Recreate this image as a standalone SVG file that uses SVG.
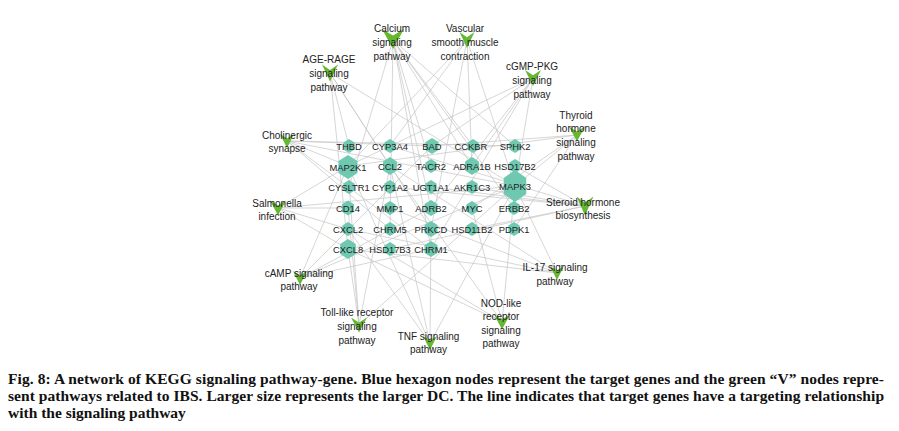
<svg xmlns="http://www.w3.org/2000/svg" xmlns:xlink="http://www.w3.org/1999/xlink" width="899" height="431" viewBox="0 0 899 431">
<style>
.e{stroke:#c4c4c4;stroke-width:0.7;fill:none}
.hx{fill:#6fc9b1}
.v{fill:#66b832}
.g{font-family:"Liberation Sans",Arial,sans-serif;font-size:9.4px;fill:#222;text-anchor:middle}
.p{font-family:"Liberation Sans",Arial,sans-serif;font-size:10px;fill:#222;text-anchor:middle}
.cap{font-family:"Liberation Serif","Times New Roman",serif;font-size:15.5px;font-weight:bold;fill:#111}
</style>
<defs>
<polygon id="hex" points="0,-1 0.866,-0.5 0.866,0.5 0,1 -0.866,0.5 -0.866,-0.5"/>
<polygon id="vee" points="-1,-1 0,-0.35 1,-1 0,1"/>
</defs>
<rect width="899" height="431" fill="#fff"/>
<g id="edges">
<path class="e" d="M393,40L472,166M393,40L431,208M393,40L473,146M393,40L431,249M393,40L390,229M393,40L431,166M393,40L349,187M393,40L514,208M393,40L515,146"/>
<path class="e" d="M330,73L390,166M330,73L348,249M330,73L515,186M330,73L431,229M330,73L349,146"/>
<path class="e" d="M467,40L472,166M467,40L515,186M467,40L348,166M467,40L431,229M467,40L390,146"/>
<path class="e" d="M533,78L472,166M533,78L431,208M533,78L432,146M533,78L515,186M533,78L348,166M533,78L431,249"/>
<path class="e" d="M577,135L515,186M577,135L348,166M577,135L472,208M577,135L514,229M577,135L432,146"/>
<path class="e" d="M287,141L431,249M287,141L390,229M287,141L515,186M287,141L348,166M287,141L432,146M287,141L515,146"/>
<path class="e" d="M278,208L348,208M278,208L348,229M278,208L348,249M278,208L515,186M278,208L348,166"/>
<path class="e" d="M585,206L390,146M585,206L390,187M585,206L431,187M585,206L472,187M585,206L515,166M585,206L390,249M585,206L472,229"/>
<path class="e" d="M300,278L431,208M300,278L431,249M300,278L515,186M300,278L348,166M300,278L432,146"/>
<path class="e" d="M359,325L348,208M359,325L348,249M359,325L515,186M359,325L348,166M359,325L390,166"/>
<path class="e" d="M430,343L390,166M430,343L348,229M430,343L515,186M430,343L348,166M430,343L431,229"/>
<path class="e" d="M557,273L390,166M557,273L348,229M557,273L348,249M557,273L515,186M557,273L390,208"/>
<path class="e" d="M502,322L390,166M502,322L348,229M502,322L348,249M502,322L515,186M502,322L472,208"/>
</g>
<g id="THBD"><use xlink:href="#hex" class="hx" transform="translate(349,146) scale(6.5,7)"/><text class="g" x="349" y="149.5">THBD</text></g>
<g id="CYP3A4"><use xlink:href="#hex" class="hx" transform="translate(390,146) scale(6.5,7)"/><text class="g" x="390" y="149.5">CYP3A4</text></g>
<g id="BAD"><use xlink:href="#hex" class="hx" transform="translate(432,146) scale(7.5,8)"/><text class="g" x="432" y="149.5">BAD</text></g>
<g id="CCKBR"><use xlink:href="#hex" class="hx" transform="translate(473,146) scale(6.5,7)"/><text class="g" x="471" y="149.5">CCKBR</text></g>
<g id="SPHK2"><use xlink:href="#hex" class="hx" transform="translate(515,146) scale(6.5,7)"/><text class="g" x="515" y="149.5">SPHK2</text></g>
<g id="MAP2K1"><use xlink:href="#hex" class="hx" transform="translate(348,167) scale(11,12)"/><text class="g" x="348" y="170.5">MAP2K1</text></g>
<g id="CCL2"><use xlink:href="#hex" class="hx" transform="translate(390,166) scale(8,9)"/><text class="g" x="390" y="169.5">CCL2</text></g>
<g id="TACR2"><use xlink:href="#hex" class="hx" transform="translate(431,166) scale(6.5,7)"/><text class="g" x="431" y="169.5">TACR2</text></g>
<g id="ADRA1B"><use xlink:href="#hex" class="hx" transform="translate(472,166) scale(8,9)"/><text class="g" x="472" y="169.5">ADRA1B</text></g>
<g id="HSD17B2"><use xlink:href="#hex" class="hx" transform="translate(515,166) scale(6.5,7)"/><text class="g" x="515" y="169.5">HSD17B2</text></g>
<g id="CYSLTR1"><use xlink:href="#hex" class="hx" transform="translate(349,187) scale(6.5,7)"/><text class="g" x="349" y="190.5">CYSLTR1</text></g>
<g id="CYP1A2"><use xlink:href="#hex" class="hx" transform="translate(390,187) scale(6.5,7)"/><text class="g" x="390" y="190.5">CYP1A2</text></g>
<g id="UGT1A1"><use xlink:href="#hex" class="hx" transform="translate(431,187) scale(6.5,7)"/><text class="g" x="431" y="190.5">UGT1A1</text></g>
<g id="AKR1C3"><use xlink:href="#hex" class="hx" transform="translate(472,187) scale(6.5,7)"/><text class="g" x="472" y="190.5">AKR1C3</text></g>
<g id="MAPK3"><use xlink:href="#hex" class="hx" transform="translate(515,186) scale(13,16)"/><text class="g" x="515" y="190">MAPK3</text></g>
<g id="CD14"><use xlink:href="#hex" class="hx" transform="translate(348,208) scale(7,7.5)"/><text class="g" x="348" y="211.5">CD14</text></g>
<g id="MMP1"><use xlink:href="#hex" class="hx" transform="translate(390,208) scale(6.5,7)"/><text class="g" x="390" y="211.5">MMP1</text></g>
<g id="ADRB2"><use xlink:href="#hex" class="hx" transform="translate(431,208) scale(7.5,8)"/><text class="g" x="431" y="211.5">ADRB2</text></g>
<g id="MYC"><use xlink:href="#hex" class="hx" transform="translate(472,208) scale(6.5,7)"/><text class="g" x="472" y="211.5">MYC</text></g>
<g id="ERBB2"><use xlink:href="#hex" class="hx" transform="translate(514,208) scale(6.5,7)"/><text class="g" x="514" y="211.5">ERBB2</text></g>
<g id="CXCL2"><use xlink:href="#hex" class="hx" transform="translate(348,229) scale(6.5,7)"/><text class="g" x="348" y="232.5">CXCL2</text></g>
<g id="CHRM5"><use xlink:href="#hex" class="hx" transform="translate(390,229) scale(6.5,7)"/><text class="g" x="390" y="232.5">CHRM5</text></g>
<g id="PRKCD"><use xlink:href="#hex" class="hx" transform="translate(431,229) scale(7.5,8)"/><text class="g" x="431" y="232.5">PRKCD</text></g>
<g id="HSD11B2"><use xlink:href="#hex" class="hx" transform="translate(472,229) scale(6.5,7)"/><text class="g" x="472" y="232.5">HSD11B2</text></g>
<g id="PDPK1"><use xlink:href="#hex" class="hx" transform="translate(514,229) scale(6.5,7)"/><text class="g" x="514" y="232.5">PDPK1</text></g>
<g id="CXCL8"><use xlink:href="#hex" class="hx" transform="translate(348,249) scale(9,10)"/><text class="g" x="348" y="252.5">CXCL8</text></g>
<g id="HSD17B3"><use xlink:href="#hex" class="hx" transform="translate(390,249) scale(6.5,7)"/><text class="g" x="390" y="252.5">HSD17B3</text></g>
<g id="CHRM1"><use xlink:href="#hex" class="hx" transform="translate(431,249) scale(7.5,8)"/><text class="g" x="431" y="252.5">CHRM1</text></g>

<g id="calcium"><use xlink:href="#vee" class="v" transform="translate(393,39) scale(11,10)"/><text class="p" x="392" y="32">Calcium</text><text class="p" x="392" y="46">signaling</text><text class="p" x="392" y="60">pathway</text></g>
<g id="agerage"><use xlink:href="#vee" class="v" transform="translate(330,73) scale(8,8.5)"/><text class="p" x="329" y="62.5">AGE-RAGE</text><text class="p" x="329" y="76.5">signaling</text><text class="p" x="329" y="90.5">pathway</text></g>
<g id="vascular"><use xlink:href="#vee" class="v" transform="translate(467,40) scale(7.5,8)"/><text class="p" x="465" y="32">Vascular</text><text class="p" x="465" y="46">smooth muscle</text><text class="p" x="465" y="60">contraction</text></g>
<g id="cgmp"><use xlink:href="#vee" class="v" transform="translate(533,78) scale(8,8)"/><text class="p" x="532" y="70">cGMP-PKG</text><text class="p" x="532" y="84">signaling</text><text class="p" x="532" y="97.5">pathway</text></g>
<g id="thyroid"><use xlink:href="#vee" class="v" transform="translate(577,134) scale(8,7.5)"/><text class="p" x="576" y="118.5">Thyroid</text><text class="p" x="576" y="132">hormone</text><text class="p" x="576" y="146">signaling</text><text class="p" x="576" y="159.5">pathway</text></g>
<g id="cholinergic"><use xlink:href="#vee" class="v" transform="translate(287,141) scale(7,7)"/><text class="p" x="287" y="138.5">Cholinergic</text><text class="p" x="287" y="152">synapse</text></g>
<g id="salmonella"><use xlink:href="#vee" class="v" transform="translate(278,208) scale(8,7.5)"/><text class="p" x="277" y="206.5">Salmonella</text><text class="p" x="277" y="220">infection</text></g>
<g id="steroid"><use xlink:href="#vee" class="v" transform="translate(585,206) scale(8.5,9.5)"/><text class="p" x="583" y="205.5">Steroid hormone</text><text class="p" x="583" y="219">biosynthesis</text></g>
<g id="camp"><use xlink:href="#vee" class="v" transform="translate(300,278) scale(7,7)"/><text class="p" x="299" y="276.5">cAMP signaling</text><text class="p" x="299" y="290">pathway</text></g>
<g id="toll"><use xlink:href="#vee" class="v" transform="translate(359,325) scale(8,7.5)"/><text class="p" x="357" y="315.5">Toll-like receptor</text><text class="p" x="357" y="330">signaling</text><text class="p" x="357" y="343.5">pathway</text></g>
<g id="tnf"><use xlink:href="#vee" class="v" transform="translate(430,343) scale(7,7)"/><text class="p" x="428.5" y="339.5">TNF signaling</text><text class="p" x="428.5" y="353">pathway</text></g>
<g id="il17"><use xlink:href="#vee" class="v" transform="translate(557,273) scale(7,7)"/><text class="p" x="555" y="270.5">IL-17 signaling</text><text class="p" x="555" y="285">pathway</text></g>
<g id="nod"><use xlink:href="#vee" class="v" transform="translate(502,322) scale(8,7.5)"/><text class="p" x="501" y="306.5">NOD-like</text><text class="p" x="501" y="320">receptor</text><text class="p" x="501" y="333.5">signaling</text><text class="p" x="501" y="347">pathway</text></g>

<text class="cap" x="8" y="384" textLength="876" lengthAdjust="spacing">Fig. 8: A network of KEGG signaling pathway-gene. Blue hexagon nodes represent the target genes and the green “V” nodes repre-</text>
<text class="cap" x="8" y="401" textLength="876" lengthAdjust="spacing">sent pathways related to IBS. Larger size represents the larger DC. The line indicates that target genes have a targeting relationship</text>
<text class="cap" x="8" y="418">with the signaling pathway</text>
</svg>
